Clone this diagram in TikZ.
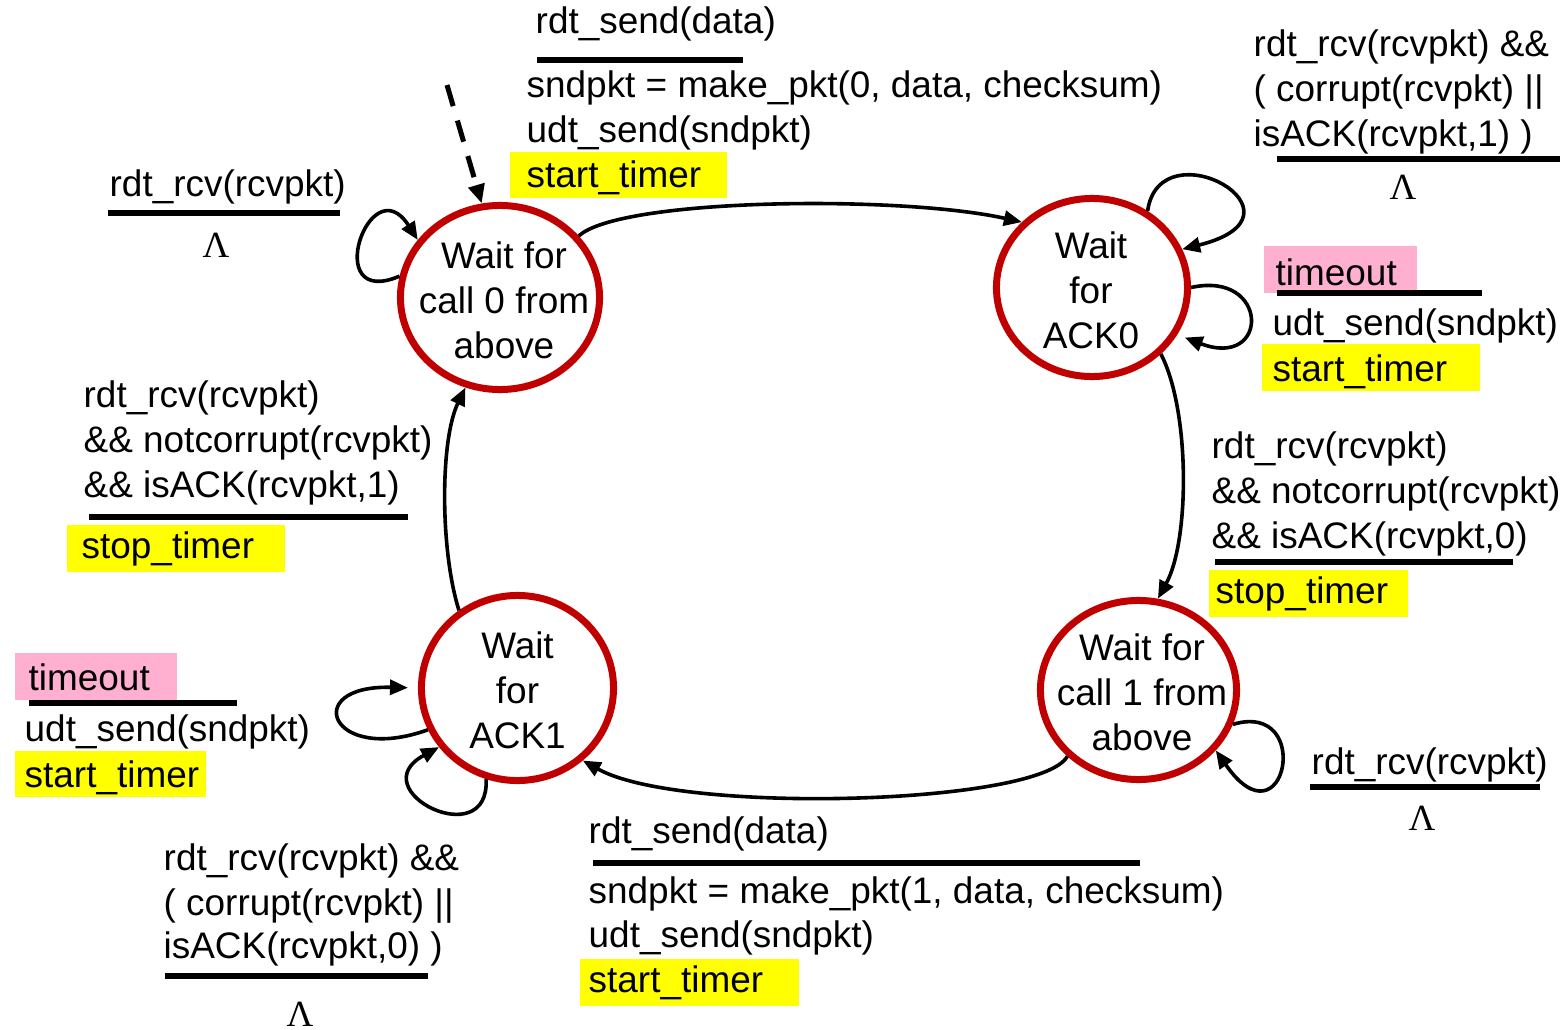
\documentclass[tikz,border=0pt]{standalone}
\usepackage{fontspec}
\setmainfont{Liberation Sans}
\newfontfamily\lamfont{Liberation Serif}
\usetikzlibrary{arrows.meta,shapes.geometric}
\definecolor{statered}{RGB}{192,0,0}
\definecolor{hlyellow}{RGB}{255,255,0}
\definecolor{hlpink}{RGB}{255,176,208}
\newcommand\lblfont{\fontsize{10.5pt}{12.8pt}\selectfont}

\begin{document}
\begin{tikzpicture}[x=0.01cm,y=-0.01cm,
  state/.style={ellipse,draw=statered,line width=0.07cm,fill=white,inner sep=0pt},
  statetext/.style={align=center,font=\lblfont,inner sep=0pt},
  lbl/.style={anchor=base west,inner sep=0pt,font=\lblfont},
  lam/.style={anchor=base,inner sep=0pt,font=\lamfont\lblfont},
  rulebar/.style={line width=0.055cm},
  trans/.style={line width=0.036cm,-{Triangle[length=0.18cm,width=0.15cm]}},
  initarrow/.style={line width=0.05cm,dash pattern=on 0.22cm off 0.15cm,
    -{Triangle[length=0.19cm,width=0.16cm]}}
]
\useasboundingbox (0,0) rectangle (1565,1030);

% highlight boxes behind actions and events
\fill[hlyellow] (510,152) rectangle (727,198);
\fill[hlyellow] (67,525) rectangle (285,572);
\fill[hlyellow] (1209,570) rectangle (1408,617);
\fill[hlyellow] (1262,344) rectangle (1480,391);
\fill[hlyellow] (580,959) rectangle (799,1006);
\fill[hlyellow] (15,751) rectangle (206,797);
\fill[hlpink] (1264,246) rectangle (1417,293);
\fill[hlpink] (15,653) rectangle (177,700);

% states
\node[state,minimum width=1.99cm,minimum height=1.84cm] (s0) at (500,297.5) {};
\node[state,minimum width=1.91cm,minimum height=1.78cm] (s1) at (1092,287.5) {};
\node[state,minimum width=1.96cm,minimum height=1.79cm] (s2) at (1138.5,690) {};
\node[state,minimum width=1.92cm,minimum height=1.85cm] (s3) at (517.5,688) {};
\node[statetext] (s0t) at (504,300) {Wait for\\call 0 from\\above};
\node[statetext] (s1t) at (1091,290) {Wait\\for\\ACK0};
\node[statetext] (s2t) at (1142,692) {Wait for\\call 1 from\\above};
\node[statetext] (s3t) at (517.5,690) {Wait\\for\\ACK1};

% initial transition
\coordinate (init) at (447,85);
\draw[initarrow] (init) -- (s0.101);

% transitions between states
\draw[trans] (s0.38) .. controls (620,198) and (900,195) .. (s1.137);
\draw[trans] (s1.-44) .. controls (1190,410) and (1190,540) .. (s2.78);
\draw[trans] (s2.-137) .. controls (1040,805) and (680,815) .. (s3.-48);
\draw[trans] (s3.127) .. controls (440,550) and (440,440) .. (s0.-111);

% self loops
\draw[trans] (s0.168) .. controls (320,310) and (370,165) .. (s0.145);
\draw[trans] (s1.54) .. controls (1160,125) and (1320,215) .. (s1.23);
\draw[trans,shorten >=0.08cm] (s1.0) .. controls (1270,270) and (1270,370) .. (s1.-29);
\draw[trans] (s2.-20) .. controls (1315,700) and (1285,850) .. (s2.-38);
\draw[trans,shorten >=0.1cm] (s3.-155) .. controls (330,765) and (300,685) .. (s3.180);
\draw[trans] (s3.-109) .. controls (490,855) and (360,790) .. (s3.-143);

% s0 -> s1
\node[lbl] (a1) at (535,33) {rdt\_send(data)};
\draw[rulebar] (537,60) -- (743,60);
\node[lbl] (a2) at (526,97) {sndpkt = make\_pkt(0, data, checksum)};
\node[lbl] (a3) at (526,142) {udt\_send(sndpkt)};
\node[lbl] (a4) at (526,187) {start\_timer};

% s0 self loop
\node[lbl] (b1) at (109,196) {rdt\_rcv(rcvpkt)};
\draw[rulebar] (108,213) -- (340,213);
\node[lam] (b2) at (216,257) {Λ};

% s1 self loop (corrupt or wrong ack)
\node[lbl] (c1) at (1253,56) {rdt\_rcv(rcvpkt) \&\&};
\node[lbl] (c2) at (1253,101) {( corrupt(rcvpkt) ||};
\node[lbl] (c3) at (1253,146) {isACK(rcvpkt,1) )};
\draw[rulebar] (1277,159) -- (1560,159);
\node[lam] (c4) at (1403,199) {Λ};

% s1 self loop (timeout)
\node[lbl] (d1) at (1275,285) {timeout};
\draw[rulebar] (1277,293) -- (1482,293);
\node[lbl] (d2) at (1272,335) {udt\_send(sndpkt)};
\node[lbl] (d3) at (1272,381) {start\_timer};

% s1 -> s2
\node[lbl] (e1) at (1211,458) {rdt\_rcv(rcvpkt)};
\node[lbl] (e2) at (1211,503) {\&\& notcorrupt(rcvpkt)};
\node[lbl] (e3) at (1211,548) {\&\& isACK(rcvpkt,0)};
\draw[rulebar] (1215,562) -- (1513,562);
\node[lbl] (e4) at (1215,603) {stop\_timer};

% s2 self loop
\node[lbl] (f1) at (1311,774) {rdt\_rcv(rcvpkt)};
\draw[rulebar] (1310,787) -- (1540,787);
\node[lam] (f2) at (1422,830) {Λ};

% s2 -> s3
\node[lbl] (g1) at (588,843) {rdt\_send(data)};
\draw[rulebar] (593,863) -- (1140,863);
\node[lbl] (g2) at (588,903) {sndpkt = make\_pkt(1, data, checksum)};
\node[lbl] (g3) at (588,947) {udt\_send(sndpkt)};
\node[lbl] (g4) at (588,992) {start\_timer};

% s3 self loop (corrupt or wrong ack)
\node[lbl] (h1) at (163,870) {rdt\_rcv(rcvpkt) \&\&};
\node[lbl] (h2) at (163,915) {( corrupt(rcvpkt) ||};
\node[lbl] (h3) at (163,958) {isACK(rcvpkt,0) )};
\draw[rulebar] (165,976) -- (428,976);
\node[lam] (h4) at (300,1026) {Λ};

% s3 self loop (timeout)
\node[lbl] (i1) at (28,690) {timeout};
\draw[rulebar] (29,703) -- (237,703);
\node[lbl] (i2) at (24,741) {udt\_send(sndpkt)};
\node[lbl] (i3) at (24,787) {start\_timer};

% s3 -> s0
\node[lbl] (j1) at (83,407) {rdt\_rcv(rcvpkt)};
\node[lbl] (j2) at (83,452) {\&\& notcorrupt(rcvpkt)};
\node[lbl] (j3) at (83,497) {\&\& isACK(rcvpkt,1)};
\draw[rulebar] (89,517) -- (408,517);
\node[lbl] (j4) at (81,558) {stop\_timer};
\end{tikzpicture}
\end{document}
